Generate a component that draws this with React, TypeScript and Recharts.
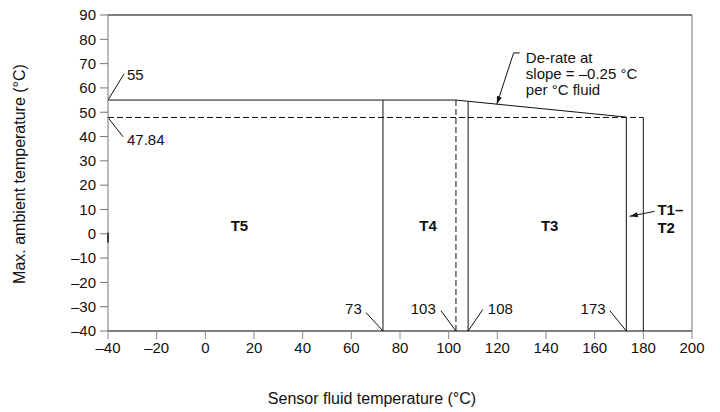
import { ComposedChart, Line, XAxis, YAxis, ReferenceLine, ReferenceDot, Label } from "recharts"

const FONT = "'Liberation Sans', Arial, Helvetica, sans-serif"
const INK = "#111"

const xTicks = [-40, -20, 0, 20, 40, 60, 80, 100, 120, 140, 160, 180, 200]
const yTicks = [-40, -30, -20, -10, 0, 10, 20, 30, 40, 50, 60, 70, 80, 90]

// max ambient envelope: flat at 55 up to 103 °C fluid, then de-rated to 48 at 173
const envelope = [
  { x: -40, y: 55 },
  { x: 103, y: 55 },
  { x: 173, y: 48 },
]

// temperature class limits (fluid °C) and the ambient value where each line stops
const classLimits = [73, 108, 173, 180]
const classTops = [55, 54.5, 48, 47.84]

const deratedAmbient = 47.84
const dashedLimit = 103

const classNames = ["T5", "T4", "T3"]
const classNameX = [14, 91.5, 141.5]

// callouts: label, anchor point on the chart, leader end, text pos
const callouts = [
  { text: "55", at: [-40, 55], lead: [-33.4, 65.8], pos: [-32.2, 65.4], anchor: "start" },
  { text: "47.84", at: [-40, 47.84], lead: [-33.8, 39.9], pos: [-32.2, 38.7], anchor: "start" },
  { text: "73", at: [73, -40], lead: [66, -32.4], pos: [64.3, -30.7], anchor: "end" },
  { text: "103", at: [103, -40], lead: [96.8, -31.6], pos: [94.7, -30.7], anchor: "end" },
  { text: "108", at: [108, -40], lead: [114, -31.2], pos: [116.1, -30.7], anchor: "start" },
  { text: "173", at: [173, -40], lead: [166.2, -31.6], pos: [164.5, -30.7], anchor: "end" },
]

const fmt = (v: number) => (v < 0 ? `\u2013${Math.abs(v)}` : `${v}`)

function seg(x1: number, y1: number, x2: number, y2: number) {
  return [
    { x: x1, y: y1 },
    { x: x2, y: y2 },
  ]
}

// line with an arrow head at its first point
function arrowShape(p: any) {
  const { x1, y1, x2, y2 } = p
  const dx = x1 - x2
  const dy = y1 - y2
  const len = Math.sqrt(dx * dx + dy * dy) || 1
  const ux = dx / len
  const uy = dy / len
  const bx = x1 - ux * 8
  const by = y1 - uy * 8
  const pts = `${x1},${y1} ${bx - uy * 2.5},${by + ux * 2.5} ${bx + uy * 2.5},${by - ux * 2.5}`
  return (
    <g>
      <line x1={x1} y1={y1} x2={x2} y2={y2} stroke={INK} strokeWidth={1} />
      <polygon points={pts} fill={INK} />
    </g>
  )
}

function textShape(lines: string[], anchor: string, bold = false, size = 15, gap = "1.07em") {
  return (p: any) => (
    <text
      x={p.cx}
      y={p.cy}
      textAnchor={anchor as any}
      fontFamily={FONT}
      fontSize={size}
      fontWeight={bold ? "bold" : "normal"}
      fill={INK}
    >
      {lines.map((l, i) => (
        <tspan key={i} x={p.cx} dy={i === 0 ? "0.35em" : gap}>
          {l}
        </tspan>
      ))}
    </text>
  )
}

function YTitle(props: any) {
  const vb = props.viewBox
  const cy = vb.y + vb.height / 2 + 1
  return (
    <text
      x={19}
      y={cy}
      transform={`rotate(-90, 19, ${cy})`}
      textAnchor="middle"
      dominantBaseline="central"
      fontFamily={FONT}
      fontSize={16}
      fill={INK}
    >
      Max. ambient temperature (°C)
    </text>
  )
}

function XTitle() {
  return (
    <text x={372} y={398} textAnchor="middle" dominantBaseline="central" fontFamily={FONT} fontSize={16} fill={INK}>
      Sensor fluid temperature (°C)
    </text>
  )
}

export default function App() {
  return (
    <div style={{ position: "absolute", left: 0, top: 0, background: "#fff" }}>
      <ComposedChart width={720} height={412} margin={{ top: 15, right: 28, bottom: 6, left: 0 }}>
        <XAxis
          dataKey="x"
          type="number"
          domain={[-40, 200]}
          ticks={xTicks}
          tickFormatter={fmt}
          height={75}
          tickSize={8}
          tickMargin={3}
          axisLine={{ stroke: "#000" }}
          tickLine={{ stroke: "#888" }}
          tick={{ fill: INK, fontSize: 15, fontFamily: FONT }}
        >
          <Label content={<XTitle />} />
        </XAxis>
        <YAxis
          type="number"
          domain={[-40, 90]}
          ticks={yTicks}
          tickFormatter={fmt}
          width={108}
          tickSize={8}
          tickMargin={4}
          axisLine={{ stroke: "#777" }}
          tickLine={{ stroke: "#777" }}
          tick={{ fill: INK, fontSize: 15, fontFamily: FONT }}
        >
          <Label content={<YTitle />} />
        </YAxis>

        <ReferenceLine y={90} stroke="#000" />
        <ReferenceLine x={200} stroke="#777" />
        <ReferenceLine segment={[{ x: -40, y: 0.5 }, { x: -40, y: -3.6 }]} stroke="#000" strokeWidth={2} />

        <Line data={envelope} dataKey="y" stroke={INK} strokeWidth={1} dot={false} isAnimationActive={false} />
        {classLimits.map((c, i) => (
          <Line
            key={`lim${c}`}
            data={seg(c, -40, c, classTops[i])}
            dataKey="y"
            stroke={INK}
            strokeWidth={1}
            dot={false}
            isAnimationActive={false}
          />
        ))}
        <Line
          data={seg(-40, deratedAmbient, 180, deratedAmbient)}
          dataKey="y"
          stroke={INK}
          strokeWidth={1}
          strokeDasharray="6 3"
          dot={false}
          isAnimationActive={false}
        />
        <Line
          data={seg(dashedLimit, -40, dashedLimit, 55)}
          dataKey="y"
          stroke={INK}
          strokeWidth={1}
          strokeDasharray="6 3"
          dot={false}
          isAnimationActive={false}
        />

        {callouts.map((c) => (
          <ReferenceLine
            key={`l${c.text}`}
            segment={[{ x: c.at[0], y: c.at[1] }, { x: c.lead[0], y: c.lead[1] }]}
            stroke={INK}
          />
        ))}
        {callouts.map((c) => (
          <ReferenceDot
            key={`t${c.text}`}
            x={c.pos[0]}
            y={c.pos[1]}
            r={0}
            shape={textShape([c.text], c.anchor)}
          />
        ))}

        {classNames.map((n, i) => (
          <ReferenceDot key={n} x={classNameX[i]} y={3.3} r={0} shape={textShape([n], "middle", true)} />
        ))}

        {/* de-rate note */}
        <ReferenceLine segment={[{ x: 119.8, y: 53.3 }, { x: 126.7, y: 74.4 }]} shape={arrowShape} />
        <ReferenceLine segment={[{ x: 126.7, y: 74.4 }, { x: 129.2, y: 74.4 }]} stroke={INK} />
        <ReferenceDot
          x={131.7}
          y={72.3}
          r={0}
          shape={textShape(["De-rate at", "slope = \u20130.25 °C", "per °C fluid"], "start")}
        />

        {/* T1–T2 note */}
        <ReferenceLine segment={[{ x: 174.4, y: 7.2 }, { x: 184.6, y: 9.2 }]} shape={arrowShape} />
        <ReferenceDot x={185.8} y={9.9} r={0} shape={textShape(["T1\u2013", "T2"], "start", true, 15, "1.2em")} />
      </ComposedChart>
    </div>
  )
}
